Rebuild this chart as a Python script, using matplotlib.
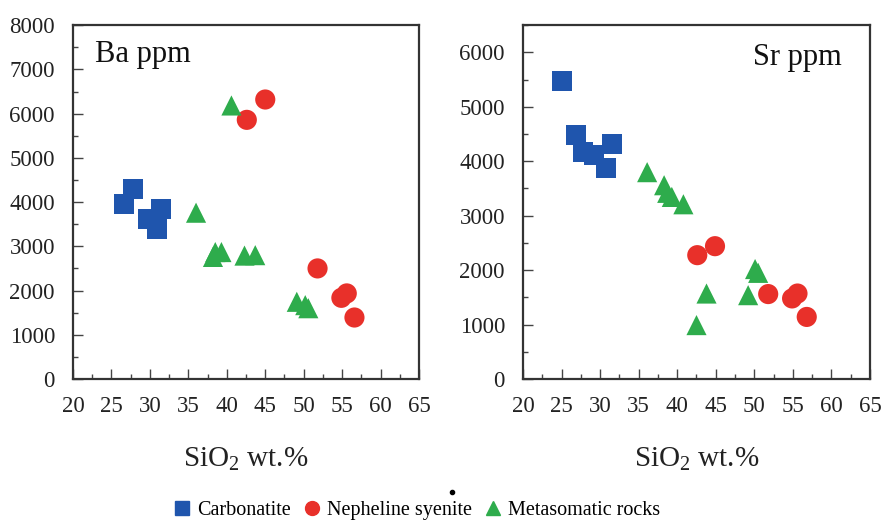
import matplotlib
matplotlib.use("Agg")
import matplotlib.pyplot as plt
from matplotlib.lines import Line2D
from matplotlib.ticker import MultipleLocator

plt.rcParams["font.family"] = "serif"
plt.rcParams["font.serif"] = ["Liberation Serif", "DejaVu Serif"]
plt.rcParams["mathtext.fontset"] = "custom"
plt.rcParams["mathtext.rm"] = "Liberation Serif"
plt.rcParams["mathtext.it"] = "Liberation Serif:italic"

# Ba (ppm) vs SiO2 (wt.%)
carb_ba_sio2 = [27.8, 26.6, 31.4, 29.8, 30.9]
carb_ba = [4290, 3950, 3840, 3610, 3390]
neph_ba_sio2 = [45.0, 42.6, 51.8, 55.6, 54.9, 56.6]
neph_ba = [6320, 5860, 2500, 1935, 1835, 1390]
meta_ba_sio2 = [40.6, 36.0, 38.2, 38.5, 39.3, 42.3, 43.7, 49.1, 50.2, 50.6]
meta_ba = [6185, 3760, 2760, 2870, 2870, 2790, 2800, 1745, 1670, 1600]

# Sr (ppm) vs SiO2 (wt.%)
carb_sr_sio2 = [25.0, 26.9, 27.8, 29.2, 31.5, 30.8]
carb_sr = [5470, 4480, 4170, 4110, 4310, 3870]
neph_sr_sio2 = [42.6, 44.9, 51.8, 54.9, 55.6, 56.8]
neph_sr = [2275, 2440, 1560, 1480, 1570, 1140]
meta_sr_sio2 = [36.1, 38.3, 38.7, 39.3, 40.8, 43.8, 42.5, 49.2, 50.1, 50.5]
meta_sr = [3800, 3560, 3420, 3345, 3210, 1570, 990, 1540, 2020, 1950]

groups = ["Carbonatite", "Nepheline syenite", "Metasomatic rocks"]
colores = ["#1f55ad", "#e8302a", "#2eac4c"]
marcadores = ["s", "o", "^"]

fig = plt.figure(figsize=(8.85, 5.21), dpi=100)
ax1 = fig.add_axes([0.0825, 0.2726, 0.391, 0.679])
ax2 = fig.add_axes([0.591, 0.2726, 0.392, 0.679])

paneles = [
    (ax1, [(carb_ba_sio2, carb_ba), (neph_ba_sio2, neph_ba), (meta_ba_sio2, meta_ba)], 8000, "Ba ppm"),
    (ax2, [(carb_sr_sio2, carb_sr), (neph_sr_sio2, neph_sr), (meta_sr_sio2, meta_sr)], 6500, "Sr ppm"),
]

for ax, series, ymax, titulo in paneles:
    for (x, y), c, m in zip(series, colores, marcadores):
        ax.scatter(x, y, s=14.5 ** 2, marker=m, color=c, edgecolors="none", zorder=3)
    ax.set_xlim(20, 65)
    ax.set_ylim(0, ymax)
    ax.xaxis.set_major_locator(MultipleLocator(5))
    ax.xaxis.set_minor_locator(MultipleLocator(2.5))
    ax.yaxis.set_major_locator(MultipleLocator(1000))
    ax.yaxis.set_minor_locator(MultipleLocator(500))
    ax.tick_params(which="both", direction="in", color="#444", width=1.0)
    ax.tick_params(which="major", length=7.5)
    ax.tick_params(which="minor", length=3.5)
    ax.tick_params(axis="x", labelsize=16.5, pad=12, labelcolor="#222")
    ax.tick_params(axis="y", labelsize=16.5, pad=13, labelcolor="#222")
    for sp in ax.spines.values():
        sp.set_linewidth(1.6)
        sp.set_color("#333")
    ax.set_xlabel(r"SiO$_2$ wt.%", fontsize=21, labelpad=21, color="#222")

ax1.text(0.064, 0.895, "Ba ppm", transform=ax1.transAxes, fontsize=22,
         ha="left", va="baseline", color="#111")
ax2.text(0.919, 0.887, "Sr ppm", transform=ax2.transAxes, fontsize=22,
         ha="right", va="baseline", color="#111")

handles = [Line2D([], [], marker=m, color=c, linestyle="none", markersize=10)
           for m, c in zip(marcadores, colores)]
fig.legend(handles, groups, loc="center", bbox_to_anchor=(0.472, 0.02), ncol=3,
           frameon=False, fontsize=14.5, handlelength=0.7, handletextpad=0.4,
           columnspacing=0.7, borderaxespad=0)

# punto suelto sobre la leyenda
fig.add_artist(Line2D([0.5107], [0.0557], marker="o", markersize=3, color="k",
                      linestyle="none", transform=fig.transFigure))

fig.savefig("out.png", dpi=100)
